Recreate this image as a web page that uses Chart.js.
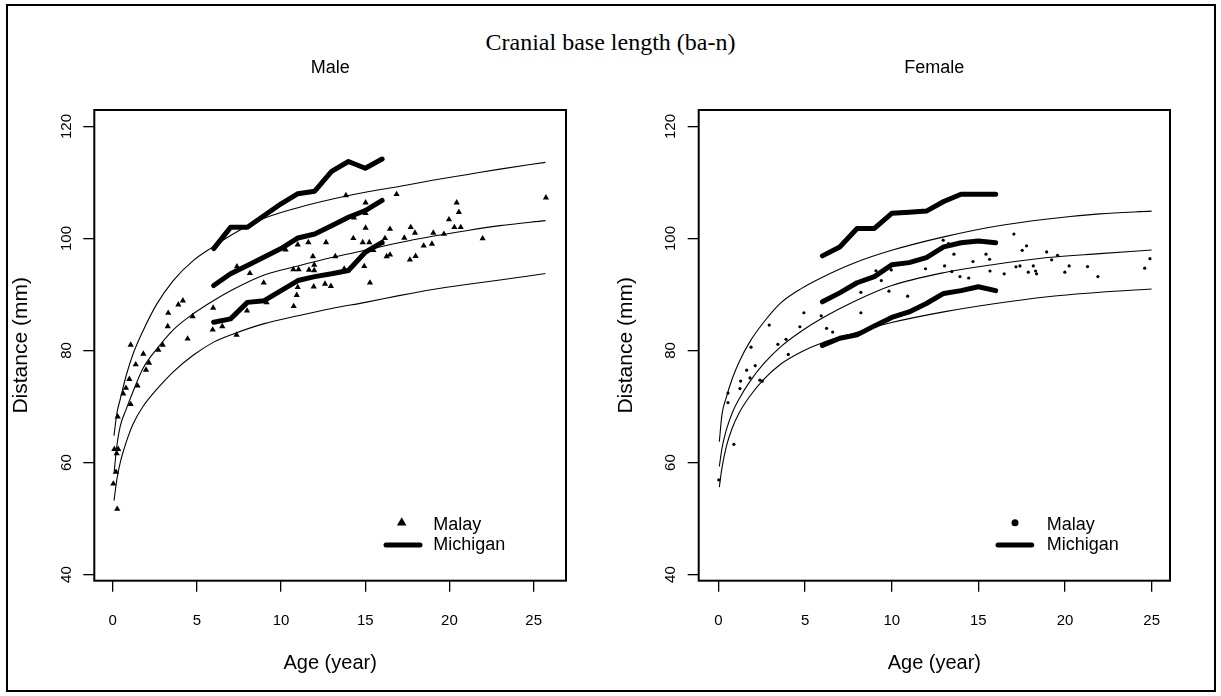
<!DOCTYPE html>
<html>
<head>
<meta charset="utf-8">
<script src="https://cdn.jsdelivr.net/npm/chart.js@4.4.1/dist/chart.umd.min.js"></script>
<style>
  html, body { margin: 0; padding: 0; background: #fff; overflow: hidden; }
  #frame { position: absolute; left: 6px; top: 4px; width: 1206px; height: 684px; border: 2px solid #000; }
  #mainTitle { position: absolute; left: 0; top: 29px; width: 1221px; text-align: center;
               font-family: "Liberation Serif", "Times New Roman", serif; font-size: 24px; color: #000; }
  canvas { position: absolute; top: 0; }
</style>
</head>
<body>
<div id="frame"></div>
<div id="mainTitle">Cranial base length (ba-n)</div>
<canvas id="maleChart" width="610" height="696" style="left:0px"></canvas>
<canvas id="femaleChart" width="611" height="696" style="left:610px"></canvas>
<script>
// ---- axis ticks
const xTicks = [0, 5, 10, 15, 20, 25];
const yTicks = [40, 60, 80, 100, 120];

// ---- Michigan (thick lines), ages 6..16
const michiganAges = [6, 7, 8, 9, 10, 11, 12, 13, 14, 15, 16];
const maleMichiganHigh = [98.2, 102.0, 102.0, 104.1, 106.2, 108.0, 108.45, 112.0, 113.75, 112.55, 114.2];
const maleMichiganMid = [91.6, 93.7, 95.2, 96.7, 98.2, 100.1, 100.8, 102.3, 103.8, 105.0, 106.8];
const maleMichiganLow = [85.05, 85.65, 88.6, 88.9, 90.7, 92.5, 93.2, 93.7, 94.3, 97.55, 99.3];
const femaleMichiganHigh = [96.9, 98.5, 101.8, 101.8, 104.5, 104.7, 104.9, 106.6, 107.9, 107.9, 107.9];
const femaleMichiganMid = [88.7, 90.3, 92.1, 93.2, 95.3, 95.7, 96.6, 98.5, 99.25, 99.55, 99.25];
const femaleMichiganLow = [80.9, 82.2, 82.8, 84.4, 85.9, 86.9, 88.4, 90.2, 90.7, 91.4, 90.7];

// ---- Malay reference curves (thin lines)
const maleCurveAges = [0.08, 0.25, 0.45, 0.8, 1.2, 1.8, 2.6, 3.6, 4.8, 6, 7.2, 9, 11, 13, 15, 17, 19, 21, 23, 25.7];
const maleCurveHigh = [64.8, 68.8, 71.3, 75.5, 79.3, 83.5, 88.2, 92.5, 96.1, 98.6, 100.9, 103.6, 105.5, 107.0, 108.25, 109.3, 110.4, 111.4, 112.4, 113.6];
const maleCurveMid = [58.0, 63.0, 66.5, 69.5, 72.6, 76.8, 80.2, 83.7, 86.6, 88.95, 91.0, 93.5, 95.1, 96.6, 97.9, 99.25, 100.4, 101.4, 102.3, 103.2];
const maleCurveLow = [53.2, 57.0, 60.0, 63.6, 66.8, 70.0, 73.0, 76.2, 79.2, 81.5, 83.0, 84.8, 86.2, 87.5, 88.6, 89.8, 90.9, 91.8, 92.6, 93.75];

const femaleCurveAges = [0.05, 0.2, 0.45, 0.8, 1.2, 1.8, 2.6, 3.6, 4.8, 6, 7.8, 10, 13, 16, 19, 22, 25];
const femaleCurveHigh = [63.7, 68.5, 71.6, 75.0, 78.0, 81.5, 85.0, 88.5, 91.1, 93.1, 95.6, 97.9, 100.3, 102.2, 103.5, 104.4, 104.9];
const femaleCurveMid = [59.3, 62.5, 65.8, 68.9, 71.4, 74.4, 77.6, 80.7, 83.5, 85.8, 88.7, 91.6, 93.9, 95.4, 96.6, 97.3, 97.95];
const femaleCurveLow = [55.6, 59.0, 62.8, 66.2, 68.9, 71.8, 74.8, 77.6, 79.8, 81.4, 83.1, 85.0, 86.9, 88.4, 89.6, 90.4, 91.0];

// ---- Malay observations (points)
const maleMalayAge = [13.85, 16.86, 15.02, 20.43, 20.56, 14.33, 15.02, 19.97, 15.02, 16.47, 17.70, 17.95, 19.04, 19.67, 20.29,
  20.67, 21.97, 17.32, 16.17, 14.29, 14.85, 15.24, 12.67, 11.62, 10.99, 10.27, 18.47, 18.96, 15.97, 15.48,
  13.22, 11.89, 16.27, 16.47, 17.99, 17.65, 11.97, 14.94, 13.75, 10.73, 11.04, 11.66, 11.97, 7.38, 8.15,
  8.97, 15.28, 12.61, 12.96, 11.94, 10.99, 10.93, 10.75, 7.98, 9.14, 5.97, 4.75, 4.17, 3.90, 3.30,
  3.27, 4.45, 5.94, 6.51, 7.36, 1.07, 1.82, 2.97, 2.71, 1.37, 2.16, 1.98, 0.99, 1.48, 0.79,
  0.63, 1.07, 0.30, 0.10, 0.33, 0.24, 0.20, 0.04, 0.27, 25.73];
const maleMalayDist = [107.7, 107.9, 106.4, 106.4, 104.7, 103.7, 104.5, 103.4, 101.9, 101.7, 102.0, 101.0, 101.0, 100.8, 102.0,
  102.0, 100.0, 100.1, 100.05, 100.05, 99.3, 99.3, 99.3, 99.3, 98.9, 98.0, 98.7, 99.05, 99.2, 97.9,
  96.8, 96.8, 96.8, 97.1, 96.85, 96.2, 95.3, 95.05, 94.6, 94.5, 94.5, 94.4, 94.3, 95.0, 93.8,
  92.1, 92.1, 91.9, 91.5, 91.4, 91.3, 89.9, 87.9, 87.1, 88.6, 87.6, 86.1, 88.9, 88.2, 86.7,
  84.3, 82.1, 83.7, 84.3, 82.8, 81.0, 79.4, 81.0, 80.1, 77.5, 77.8, 76.55, 74.9, 73.7, 73.3,
  72.3, 70.4, 68.2, 62.4, 62.4, 61.6, 58.3, 56.2, 51.7, 107.3];

const femaleMalayAge = [0.55, 1.28, 1.63, 1.24, 1.82, 2.12, 1.88, 2.39, 2.53, 2.93, 3.43, 3.90, 4.03, 4.70, 4.93,
  5.93, 6.24, 6.59, 8.22, 8.22, 9.09, 9.40, 9.84, 9.97, 10.92, 11.95, 12.97, 13.05, 13.28, 13.47,
  13.59, 13.94, 14.44, 14.69, 15.44, 15.65, 15.67, 16.49, 17.05, 17.17, 17.40, 17.53, 17.78, 17.88, 18.17,
  18.30, 18.36, 18.94, 19.23, 19.57, 19.99, 20.24, 0.02, 0.89, 0.55, 21.3, 21.9, 24.6, 24.9];
const femaleMalayDist = [72.4, 74.55, 76.5, 73.2, 75.1, 77.3, 80.6, 74.7, 74.55, 84.55, 81.1, 82.0, 79.3, 84.25, 86.75,
  86.2, 83.96, 83.3, 90.4, 86.75, 94.25, 92.5, 90.6, 94.4, 89.7, 94.6, 99.7, 95.1, 99.1, 94.1,
  97.2, 93.2, 92.95, 95.9, 97.2, 96.3, 94.2, 93.7, 100.8, 94.96, 95.1, 97.9, 98.7, 94.0, 95.1,
  94.2, 93.7, 97.6, 96.2, 97.0, 94.0, 95.1, 56.9, 63.25, 70.7, 95.0, 93.2, 94.7, 96.4];

// ------------------------------------------------------------------
Chart.defaults.font.family = '"Liberation Sans", Arial, sans-serif';
Chart.defaults.color = '#000';

function pts(xs, ys) {
  return xs.map((x, i) => ({ x: x, y: ys[i] }));
}

const boxPlugin = {
  id: 'plotBox',
  afterDraw(chart) {
    const { ctx, chartArea: a } = chart;
    ctx.save();
    ctx.strokeStyle = '#000';
    ctx.lineWidth = 2;
    ctx.strokeRect(a.left, a.top, a.right - a.left, a.bottom - a.top);
    ctx.restore();
  }
};

const panelTitle = {
  id: 'panelTitle',
  afterDraw(chart, args, opts) {
    const { ctx, chartArea: a } = chart;
    ctx.save();
    ctx.font = '18px "Liberation Sans", Arial, sans-serif';
    ctx.fillStyle = '#000';
    ctx.textAlign = 'center';
    ctx.textBaseline = 'middle';
    ctx.fillText(opts.text, (a.left + a.right) / 2, opts.y);
    ctx.restore();
  }
};

const insetLegend = {
  id: 'insetLegend',
  afterDraw(chart, args, opts) {
    const { ctx, chartArea: a } = chart;
    const x0 = a.left, y0 = a.bottom;
    ctx.save();
    ctx.fillStyle = '#000';
    ctx.strokeStyle = '#000';
    Chart.helpers.drawPoint(ctx, { pointStyle: opts.pointStyle, radius: opts.pointRadius, rotation: 0, borderWidth: 0 },
      x0 + opts.markX, y0 + opts.row1);
    ctx.lineWidth = 5;
    ctx.lineCap = 'round';
    ctx.beginPath();
    ctx.moveTo(x0 + opts.lineX0, y0 + opts.row2);
    ctx.lineTo(x0 + opts.lineX1, y0 + opts.row2);
    ctx.stroke();
    ctx.font = '18px "Liberation Sans", Arial, sans-serif';
    ctx.textBaseline = 'middle';
    ctx.textAlign = 'left';
    ctx.fillText(opts.labels[0], x0 + opts.textX, y0 + opts.row1 + 2);
    ctx.fillText(opts.labels[1], x0 + opts.textX, y0 + opts.row2);
    ctx.restore();
  }
};

function curve(data) {
  return { data: data, showLine: true, borderColor: '#000', borderWidth: 1.1, pointRadius: 0,
           cubicInterpolationMode: 'monotone', fill: false };
}
function michigan(data) {
  return { data: data, showLine: true, borderColor: '#000', borderWidth: 5, pointRadius: 0,
           borderCapStyle: 'round', borderJoinStyle: 'round', fill: false };
}

function makePanel(id, cfg) {
  return new Chart(document.getElementById(id), {
    type: 'scatter',
    data: {
      datasets: [
        curve(pts(cfg.curveAges, cfg.curveHigh)),
        curve(pts(cfg.curveAges, cfg.curveMid)),
        curve(pts(cfg.curveAges, cfg.curveLow)),
        michigan(pts(michiganAges, cfg.michHigh)),
        michigan(pts(michiganAges, cfg.michMid)),
        michigan(pts(michiganAges, cfg.michLow)),
        { label: 'Malay', data: pts(cfg.malayAge, cfg.malayDist), pointStyle: cfg.pointStyle,
          pointRadius: cfg.pointRadius, backgroundColor: '#000', borderWidth: 0 }
      ]
    },
    options: {
      responsive: false,
      animation: false,
      events: [],
      layout: { padding: { left: 0, top: 110, right: cfg.padRight, bottom: 0 } },
      plugins: {
        legend: { display: false },
        tooltip: { enabled: false },
        panelTitle: { text: cfg.title, y: 68 },
        insetLegend: cfg.legend
      },
      scales: {
        x: {
          type: 'linear', min: cfg.xMin, max: cfg.xMax,
          afterBuildTicks: s => { s.ticks = xTicks.map(v => ({ value: v })); },
          afterFit: s => { s.height = 115.3; },
          border: { display: false },
          grid: { drawOnChartArea: false, drawTicks: true, tickLength: 11, color: '#000', lineWidth: 1.3 },
          ticks: { font: { size: 15 }, color: '#000', padding: 20, maxRotation: 0 },
          title: { display: true, text: 'Age (year)', font: { size: 20 }, color: '#000', padding: { top: 0, bottom: 21 } }
        },
        y: {
          type: 'linear', min: 38.9, max: 122.95,
          afterBuildTicks: s => { s.ticks = yTicks.map(v => ({ value: v })); },
          afterFit: s => { s.width = cfg.yWidth; },
          border: { display: false },
          grid: { drawOnChartArea: false, drawTicks: true, tickLength: 11, color: '#000', lineWidth: 1.3 },
          ticks: { font: { size: 15 }, color: '#000', padding: 4, minRotation: 90, maxRotation: 90, crossAlign: 'center' },
          title: { display: true, text: 'Distance (mm)', font: { size: 21 }, color: '#000', padding: { top: cfg.yTitlePad, bottom: 0 } }
        }
      }
    },
    plugins: [boxPlugin, panelTitle, insetLegend]
  });
}

makePanel('maleChart', {
  title: 'Male', xMin: -1.09, xMax: 26.92, yWidth: 94.3, padRight: 44, yTitlePad: 9,
  curveAges: maleCurveAges, curveHigh: maleCurveHigh, curveMid: maleCurveMid, curveLow: maleCurveLow,
  michHigh: maleMichiganHigh, michMid: maleMichiganMid, michLow: maleMichiganLow,
  malayAge: maleMalayAge, malayDist: maleMalayDist, pointStyle: 'triangle', pointRadius: 3.6,
  legend: { labels: ['Malay', 'Michigan'], pointStyle: 'triangle', pointRadius: 5.5,
            markX: 307.4, lineX0: 291.7, lineX1: 325.7, textX: 339, row1: -58, row2: -35.7 }
});

makePanel('femaleChart', {
  title: 'Female', xMin: -1.14, xMax: 26.06, yWidth: 88.7, padRight: 51, yTitlePad: 4,
  curveAges: femaleCurveAges, curveHigh: femaleCurveHigh, curveMid: femaleCurveMid, curveLow: femaleCurveLow,
  michHigh: femaleMichiganHigh, michMid: femaleMichiganMid, michLow: femaleMichiganLow,
  malayAge: femaleMalayAge, malayDist: femaleMalayDist, pointStyle: 'circle', pointRadius: 1.6,
  legend: { labels: ['Malay', 'Michigan'], pointStyle: 'circle', pointRadius: 3.5,
            markX: 316.3, lineX0: 299.3, lineX1: 333, textX: 348, row1: -58, row2: -35.7 }
});
</script>
</body>
</html>
